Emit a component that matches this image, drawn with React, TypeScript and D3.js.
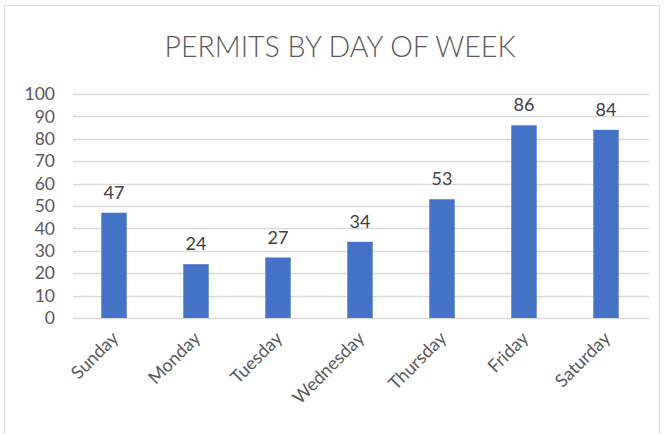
import * as d3 from "d3";
import { useEffect, useRef } from "react";

const days = ["Sunday", "Monday", "Tuesday", "Wednesday", "Thursday", "Friday", "Saturday"];
const permits = [47, 24, 27, 34, 53, 86, 84];
const yTicks = [0, 10, 20, 30, 40, 50, 60, 70, 80, 90, 100];

const W = 664;
const H = 434;

const App = () => {
    const ref = useRef<SVGSVGElement>(null);

    useEffect(() => {
        const svg = d3.select(ref.current);
        svg.selectAll("*").remove();

        const margin = { left: 73, right: 17, top: 94, bottom: 116 };
        const font = "Lato, 'Open Sans', sans-serif";

        // рамка диаграммы
        svg.append("rect")
            .attr("x", 4.5).attr("y", 5.5)
            .attr("width", 655).attr("height", 440)
            .attr("fill", "white")
            .attr("stroke", "#D9D9D9");

        svg.append("text")
            .attr("x", 340).attr("y", 57)
            .attr("text-anchor", "middle")
            .attr("font-family", font)
            .attr("font-weight", 300)
            .attr("font-size", 28.5)
            .attr("fill", "#595959")
            .text("PERMITS BY DAY OF WEEK");

        const x = d3.scaleBand()
            .domain(days)
            .range([margin.left, W - margin.right])
            .paddingInner(0.69)
            .paddingOuter(0.345);

        const y = d3.scaleLinear()
            .domain([0, 100])
            .range([H - margin.bottom, margin.top]);

        // сетка
        svg.append("g")
            .selectAll("line")
            .data(yTicks)
            .enter()
            .append("line")
            .attr("x1", margin.left).attr("x2", W - margin.right + 2)
            .attr("y1", d => Math.round(y(d)) + 0.5)
            .attr("y2", d => Math.round(y(d)) + 0.5)
            .attr("stroke", "#D9D9D9")
            .attr("stroke-width", 1.3);

        // подписи оси Y
        svg.append("g")
            .selectAll("text")
            .data(yTicks)
            .enter()
            .append("text")
            .attr("x", 55)
            .attr("y", d => y(d))
            .attr("dy", "0.35em")
            .attr("text-anchor", "end")
            .attr("font-family", font)
            .attr("font-size", 17.5)
            .attr("fill", "#595959")
            .text(d => d);

        // столбцы
        svg.append("g")
            .selectAll("rect")
            .data(permits)
            .enter()
            .append("rect")
            .attr("x", (d, i) => x(days[i])!)
            .attr("y", d => y(d))
            .attr("width", x.bandwidth())
            .attr("height", d => y(0) - y(d))
            .attr("fill", "#4472C4");

        // значения над столбцами
        svg.append("g")
            .selectAll("text")
            .data(permits)
            .enter()
            .append("text")
            .attr("x", (d, i) => x(days[i])! + x.bandwidth() / 2)
            .attr("y", d => y(d) - 14)
            .attr("text-anchor", "middle")
            .attr("font-family", font)
            .attr("font-size", 18)
            .attr("fill", "#404040")
            .text(d => d);

        // подписи оси X
        svg.append("g")
            .selectAll("text")
            .data(days)
            .enter()
            .append("text")
            .attr("transform", d => `translate(${x(d)! + x.bandwidth() / 2 + 1}, ${y(0) + 17}) rotate(-45)`)
            .attr("text-anchor", "end")
            .attr("dy", "0.35em")
            .attr("font-family", font)
            .attr("font-size", 18)
            .attr("fill", "#595959")
            .text(d => d);
    }, []);

    return (
        <svg ref={ref} width={W} height={H} style={{ position: "absolute", left: 0, top: 0 }}></svg>
    );
};

export default App;
